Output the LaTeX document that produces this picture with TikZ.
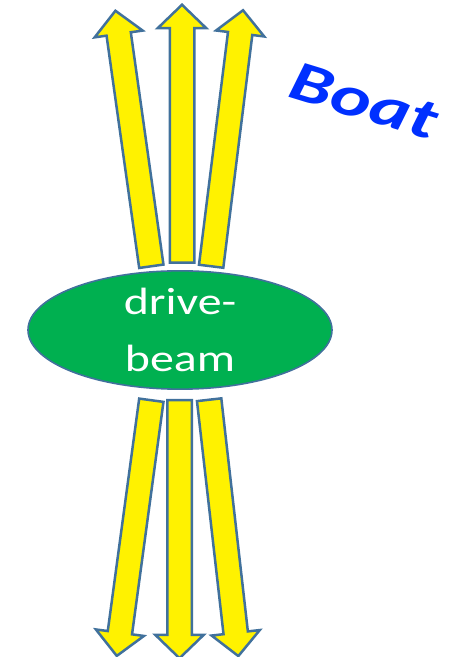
\documentclass[tikz,border=0pt]{standalone}
\usepackage{fontspec}
\usepackage{tikz}
\usetikzlibrary{shapes.geometric,shapes.arrows,positioning}
\usepackage{xcolor}

\newfontfamily\calibri{Carlito}
\definecolor{outline}{RGB}{65,113,156}
\definecolor{beamgreen}{RGB}{0,176,80}
\definecolor{boatblue}{RGB}{0,48,255}
% stretch text sideways
\newcommand{\widetext}[2][1.26]{\scalebox{#1}[1]{#2}}

\begin{document}
\begin{tikzpicture}[x=1pt, y=1pt,
    ray/.style={single arrow, draw=outline, line width=2.5pt, fill=yellow,
        minimum height=258pt, minimum width=46pt, inner xsep=0pt, inner ysep=11pt,
        single arrow head extend=12pt, single arrow tip angle=92, anchor=tail},
    beam/.style={ellipse, draw=outline, line width=1.6pt, fill=beamgreen,
        minimum width=304pt, minimum height=102pt, inner sep=0pt,
        text=white, align=center, font=\calibri\fontsize{38}{57}\selectfont},
    boat/.style={text=boatblue, font=\calibri\bfseries\itshape\fontsize{57}{60}\selectfont}
]
    \useasboundingbox (0,0) rectangle (460,657);

    % Upper fan (placed by their tails)
    \node[ray, rotate=98] (upL) at (151.5,389.5) {};
    \node[ray, rotate=90] (upM) at (182,393) {};
    \node[ray, rotate=82.9] (upR) at (211,389.5) {};

    % Lower fan
    \node[ray, rotate=262.3] (downL) at (151.5,258) {};
    \node[ray, rotate=270] (downM) at (179.5,258) {};
    \node[ray, rotate=276.5] (downR) at (209,258.5) {};

    % Drive beam in the middle
    \node[beam] (drive) at (180,327) {\widetext{drive-}\\\widetext{beam}};

    % Label
    \node[boat, rotate=-17] (boatlabel) at (364,556) {\widetext[1.34]{Boat}};
\end{tikzpicture}
\end{document}
